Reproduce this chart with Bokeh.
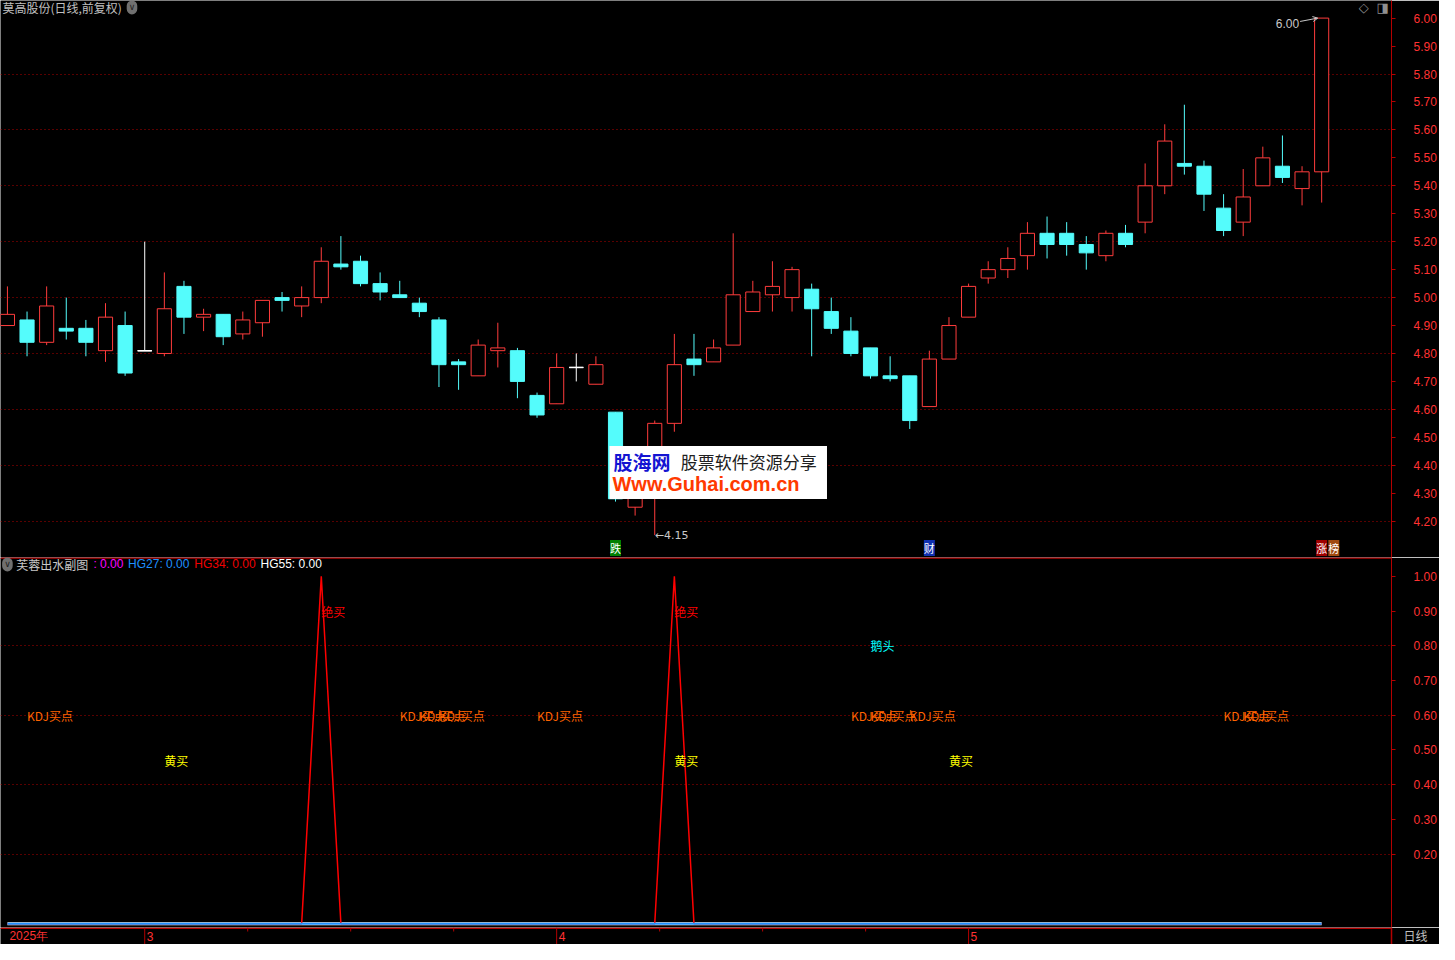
import numpy as np
from bokeh.plotting import figure
from bokeh.layouts import column
from bokeh.models import (FixedTicker, Label, BoxAnnotation, Arrow, OpenHead,
                          Range1d, Span, PrintfTickFormatter)
from bokeh.core.properties import value
from bokeh.embed import file_html
from bokeh.resources import INLINE

# ---------------- data ----------------
stock_title = "莫高股份(日线,前复权)"
month_ticks = [0, 7, 28, 49]
month_labels = ["2025年", "3", "4", "5"]

open_ = [4.90, 4.92, 4.84, 4.89, 4.89, 4.81, 4.90, 4.81, 4.80, 5.04,
         4.93, 4.94, 4.87, 4.91, 5.00, 4.97, 5.00, 5.12, 5.13, 5.05,
         5.01, 4.98, 4.92, 4.77, 4.72, 4.81, 4.81, 4.65, 4.62, 4.75,
         4.69, 4.59, 4.25, 4.37, 4.55, 4.78, 4.77, 4.83, 4.95, 5.01,
         5.00, 5.03, 4.95, 4.88, 4.82, 4.72, 4.72, 4.61, 4.78, 4.93,
         5.07, 5.10, 5.15, 5.23, 5.23, 5.19, 5.15, 5.23, 5.27, 5.40,
         5.48, 5.47, 5.32, 5.27, 5.40, 5.47, 5.39, 5.45]
high = [5.04, 4.95, 5.04, 5.00, 4.92, 4.98, 4.95, 5.20, 5.09, 5.06,
        4.96, 4.94, 4.95, 4.99, 5.02, 5.04, 5.18, 5.22, 5.15, 5.09,
        5.06, 5.00, 4.93, 4.78, 4.85, 4.91, 4.82, 4.66, 4.80, 4.80,
        4.79, 4.59, 4.33, 4.56, 4.87, 4.87, 4.85, 5.23, 5.06, 5.13,
        5.11, 5.05, 5.00, 4.93, 4.82, 4.79, 4.72, 4.81, 4.93, 5.05,
        5.13, 5.18, 5.27, 5.29, 5.27, 5.22, 5.24, 5.26, 5.48, 5.62,
        5.69, 5.49, 5.37, 5.46, 5.54, 5.58, 5.47, 6.00]
low = [4.90, 4.79, 4.83, 4.85, 4.79, 4.77, 4.72, 4.81, 4.79, 4.87,
       4.88, 4.83, 4.85, 4.86, 4.95, 4.93, 4.98, 5.10, 5.04, 4.99,
       5.00, 4.93, 4.68, 4.67, 4.72, 4.75, 4.64, 4.57, 4.62, 4.70,
       4.69, 4.27, 4.22, 4.15, 4.52, 4.72, 4.77, 4.83, 4.95, 4.95,
       4.95, 4.79, 4.87, 4.79, 4.71, 4.70, 4.53, 4.61, 4.78, 4.93,
       5.05, 5.07, 5.10, 5.14, 5.15, 5.10, 5.13, 5.18, 5.23, 5.37,
       5.44, 5.31, 5.22, 5.22, 5.40, 5.41, 5.33, 5.34]
close = [4.94, 4.84, 4.97, 4.88, 4.84, 4.93, 4.73, 4.81, 4.96, 4.93,
         4.94, 4.86, 4.92, 4.99, 4.99, 5.00, 5.13, 5.11, 5.05, 5.02,
         5.00, 4.95, 4.76, 4.76, 4.83, 4.82, 4.70, 4.58, 4.75, 4.75,
         4.76, 4.28, 4.32, 4.55, 4.76, 4.76, 4.82, 5.01, 5.02, 5.04,
         5.10, 4.96, 4.89, 4.80, 4.72, 4.71, 4.56, 4.78, 4.90, 5.04,
         5.10, 5.14, 5.23, 5.19, 5.19, 5.16, 5.23, 5.19, 5.40, 5.56,
         5.47, 5.37, 5.24, 5.36, 5.50, 5.43, 5.45, 6.00]

# sub-chart signals (candle indices)
juemai_idx = [16, 34]                       # 绝买
kdj_idx = [1, 20, 21, 22, 27, 43, 44, 46, 62, 63]   # KDJ买点
huangmai_idx = [8, 34, 48]                  # 黄买
etou_idx = [44]                             # 鹅头
juemai_level = 0.90
etou_level = 0.80
kdj_level = 0.60
huangmai_level = 0.47

# top-panel marker icons
icon_idx = [31, 47, 67]
icon_text = ["跌", "财", "涨"]
icon_bg = ["#008000", "#1030B0", "#A00000"]

# ---------------- styles ----------------
RED = "#FF3C3C"
CYAN = "#54FCFC"
AXIS = "#B40000"
GRID = "#B00000"
LAB = "#FF3232"
CJK = "Noto Sans CJK SC"
LAT = "Liberation Sans"

W, FRAME_W = 1439, 1391
TOP_H, BOT_FH, XAX_H = 557, 370, 17
KX, KY = 1391 / 1407, 944 / 960

N = len(open_)
idx = list(range(N))
xr = (-0.353, 70.56)
y1r = (4.070, 6.063)
y2r = (-0.011, 1.054)
PX2 = (y2r[1] - y2r[0]) / BOT_FH


def sx(x):
    return x * KX


def sy_top(y):
    return TOP_H - y * KY


def vy_bot(y):
    return y2r[1] - (y - 566) * KY * PX2


def style_yaxis(a):
    a.formatter = PrintfTickFormatter(format="%.2f")
    a.axis_line_color = AXIS
    a.major_tick_line_color = AXIS
    a.major_tick_in = 0
    a.major_tick_out = 4
    a.minor_tick_line_color = None
    a.major_label_text_color = LAB
    a.major_label_text_font = LAT
    a.major_label_text_font_size = "12px"
    a.major_label_standoff = 18


def base_fig(h, yr):
    f = figure(width=W, height=h, output_backend="svg", toolbar_location=None,
               x_range=shared_x, y_range=yr,
               x_axis_location=None, y_axis_location="right",
               min_border_left=0, min_border_right=W - FRAME_W, min_border_top=0,
               min_border_bottom=0)
    f.background_fill_color = "black"
    f.border_fill_color = "black"
    f.outline_line_color = None
    f.xgrid.visible = False
    return f


shared_x = Range1d(*xr)

# ---------------- top panel ----------------
p1 = base_fig(TOP_H, Range1d(*y1r))
p1.ygrid.ticker = FixedTicker(ticks=[round(4.2 + 0.2 * k, 2) for k in range(9)])
p1.ygrid.grid_line_color = GRID
p1.ygrid.grid_line_dash = "1 3"
p1.yaxis[0].ticker = FixedTicker(ticks=[round(4.2 + 0.1 * k, 2) for k in range(19)])
style_yaxis(p1.yaxis[0])

colors, fills = [], []
for o, c in zip(open_, close):
    if c > o:
        colors.append(RED); fills.append("black")
    elif c < o:
        colors.append(CYAN); fills.append(CYAN)
    else:
        colors.append("white"); fills.append("white")

p1.segment(x0=idx, y0=low, x1=idx, y1=high, line_color=colors, line_width=1)
body_top = [max(o, c) for o, c in zip(open_, close)]
body_bot = [min(o, c) for o, c in zip(open_, close)]
p1.vbar(x=idx, width=0.72, top=body_top, bottom=body_bot,
        fill_color=fills, line_color=colors, line_width=1)
doji = [i for i in idx if open_[i] == close[i]]
p1.segment(x0=[i - 0.36 for i in doji], y0=[close[i] for i in doji],
           x1=[i + 0.36 for i in doji], y1=[close[i] for i in doji],
           line_color="white", line_width=1.5)

imax = int(np.argmax(high))
imin = int(np.argmin(low))
p1.add_layout(Label(x=imax - 1.15, y=high[imax] - 0.018, text=f"{high[imax]:.2f}",
                    text_align="right", text_baseline="middle",
                    text_color="#C8C8C8", text_font=LAT, text_font_size="12px"))
p1.add_layout(Arrow(x_start=imax - 1.1, y_start=high[imax] - 0.012,
                    x_end=imax - 0.2, y_end=high[imax],
                    line_color="#C8C8C8", line_width=1,
                    end=OpenHead(size=5, line_color="#C8C8C8", line_width=1)))
p1.add_layout(Label(x=imin, y=low[imin], text=f"←{low[imin]:.2f}",
                    text_align="left", text_baseline="middle",
                    text_color="#C8C8C8", text_font="DejaVu Sans", text_font_size="11px"))

for i, t, bg in zip(icon_idx, icon_text, icon_bg):
    p1.add_layout(Label(x=i, y=9.5, x_units="data", y_units="screen", text=t,
                        text_align="center", text_baseline="middle",
                        background_fill_color=bg, text_color="white",
                        text_font=CJK, text_font_size="11px"))
p1.add_layout(Label(x=icon_idx[-1] + 0.62, y=9.5, x_units="data", y_units="screen",
                    text="榜", text_align="center", text_baseline="middle",
                    background_fill_color="#A04A10", text_color="white",
                    text_font=CJK, text_font_size="11px"))

p1.add_layout(Label(x=sx(2), y=sy_top(7), x_units="screen", y_units="screen",
                    text=stock_title, text_baseline="middle", text_color="#C0C0C0",
                    text_font=CJK, text_font_size="12px"))
p1.add_layout(Label(x=sx(133), y=sy_top(7), x_units="screen", y_units="screen",
                    text="∨", text_align="center", text_baseline="middle",
                    background_fill_color="#707070", border_radius=6,
                    text_color="#202020", text_font="DejaVu Sans",
                    text_font_size="9px", padding=2))
p1.add_layout(Label(x=sx(1379), y=sy_top(7), x_units="screen", y_units="screen",
                    text="◇", text_align="center", text_baseline="middle",
                    text_color="#909090", text_font="DejaVu Sans", text_font_size="13px"))
p1.add_layout(Label(x=sx(1398), y=sy_top(7), x_units="screen", y_units="screen",
                    text="◨", text_align="center", text_baseline="middle",
                    text_color="#909090", text_font="DejaVu Sans", text_font_size="13px"))

# watermark
p1.add_layout(BoxAnnotation(left=sx(616), right=sx(836), top=sy_top(453), bottom=sy_top(507),
                            left_units="screen", right_units="screen",
                            top_units="screen", bottom_units="screen",
                            fill_color="white", fill_alpha=1.0, line_color=None))
p1.add_layout(Label(x=sx(620), y=sy_top(469), x_units="screen", y_units="screen",
                    text="股海网", text_baseline="middle", text_color="#1414D2",
                    text_font=CJK, text_font_size="19px", text_font_style="bold"))
p1.add_layout(Label(x=sx(688), y=sy_top(469), x_units="screen", y_units="screen",
                    text="股票软件资源分享", text_baseline="middle", text_color="#202020",
                    text_font=CJK, text_font_size="17px"))
p1.add_layout(Label(x=sx(619), y=sy_top(492), x_units="screen", y_units="screen",
                    text="Www.Guhai.com.cn", text_baseline="middle", text_color="#FF3A00",
                    text_font=LAT, text_font_size="20px", text_font_style="bold"))

# ---------------- sub chart ----------------
p2 = base_fig(BOT_FH, Range1d(*y2r))
p2.ygrid.ticker = FixedTicker(ticks=[0.2, 0.4, 0.6, 0.8])
p2.ygrid.grid_line_color = GRID
p2.ygrid.grid_line_dash = "1 3"
p2.yaxis[0].ticker = FixedTicker(ticks=[round(0.2 + 0.1 * k, 2) for k in range(9)])
style_yaxis(p2.yaxis[0])

p2.add_layout(Span(location=BOT_FH - 0.5, location_units="screen", dimension="width",
                   line_color=AXIS, line_width=1.5))

juemai = [1.0 if i in juemai_idx else 0.0 for i in idx]
hg55 = [0.0] * N
hg27 = [0.0] * N
p2.line(idx, hg55, line_color="white", line_width=3)
p2.line(idx, juemai, line_color="#FF0000", line_width=1.5)
p2.line(idx, hg27, line_color="#1E90FF", line_width=2)

for xs, lvl, txt, col in [(kdj_idx, kdj_level, "KDJ买点", "#FF6400"),
                          (huangmai_idx, huangmai_level, "黄买", "#FFFF00"),
                          (etou_idx, etou_level, "鹅头", "#00FFFF"),
                          (juemai_idx, juemai_level, "绝买", "#FF0000")]:
    p2.text(x=xs, y=[lvl] * len(xs), text=[txt] * len(xs), text_color=col,
            text_font=value(CJK), text_font_size="12px",
            text_baseline="middle", text_align="left")

ty = vy_bot(573)
p2.add_layout(Label(x=sx(7), y=ty, x_units="screen", y_units="data",
                    text="∨", text_align="center", text_baseline="middle",
                    background_fill_color="#707070", border_radius=6,
                    text_color="#202020", text_font="DejaVu Sans",
                    text_font_size="9px", padding=2))
for xx, t, col, fnt in [(16, "芙蓉出水副图", "#C8C8C8", CJK),
                        (94, ": 0.00", "#FF00FF", LAT),
                        (129, "HG27: 0.00", "#1E90FF", LAT),
                        (196, "HG34: 0.00", "#F00000", LAT),
                        (263, "HG55: 0.00", "#FFFFFF", LAT)]:
    p2.add_layout(Label(x=sx(xx), y=ty, x_units="screen", y_units="data",
                        text=t, text_baseline="middle", text_color=col,
                        text_font=fnt, text_font_size="12px"))

# ---------------- date strip (x axis) ----------------
p3 = base_fig(XAX_H, Range1d(0, XAX_H))
p3.ygrid.visible = False
a3 = p3.yaxis[0]
mid = XAX_H - 9 * KY
a3.ticker = FixedTicker(ticks=[mid])
a3.major_label_overrides = {mid: "日线"}
a3.axis_line_color = AXIS
a3.axis_line_width = 1.5
a3.major_tick_line_color = None
a3.major_tick_out = 0
a3.major_tick_in = 0
a3.minor_tick_line_color = None
a3.major_label_standoff = 12
a3.major_label_text_color = "#C0C0C0"
a3.major_label_text_font = CJK
a3.major_label_text_font_size = "12px"

minor = []
for a, b in zip(month_ticks[1:-1], month_ticks[2:]):
    minor += [a + (b - a) * k / 4 for k in (1, 2, 3)]
p3.segment(x0=[xr[0]], y0=[XAX_H - 0.75], x1=[xr[1]], y1=[XAX_H - 0.75],
           line_color=AXIS, line_width=1.5)
p3.segment(x0=month_ticks[1:], y0=[0] * 3, x1=month_ticks[1:], y1=[XAX_H] * 3,
           line_color=AXIS, line_width=1)
p3.segment(x0=minor, y0=[XAX_H - 4] * len(minor), x1=minor, y1=[XAX_H] * len(minor),
           line_color=AXIS, line_width=1)
p3.text(x=month_ticks, y=[mid] * len(month_ticks), text=month_labels,
        x_offset=2, text_color=LAB, text_font=value(LAT), text_font_size="12px",
        text_baseline="middle", text_align="left")

layout = column(p1, p2, p3, spacing=0)
open("out.html", "w").write(file_html(layout, INLINE))
